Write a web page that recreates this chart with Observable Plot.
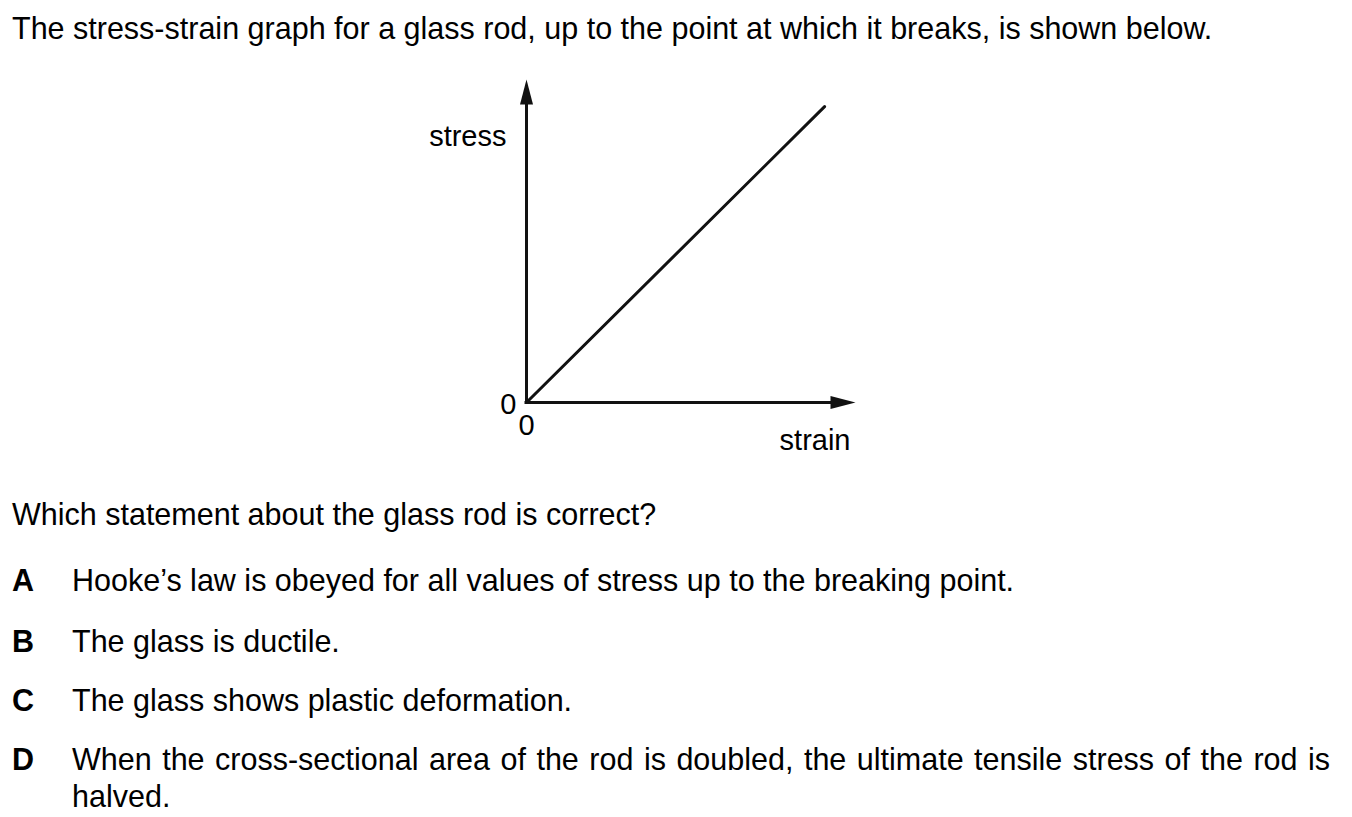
<!DOCTYPE html>
<html>
<head>
<meta charset="utf-8">
<script src="https://cdn.jsdelivr.net/npm/d3@7"></script>
<script src="https://cdn.jsdelivr.net/npm/@observablehq/plot@0.6"></script>
<style>
  html, body { margin: 0; padding: 0; background: #fff; }
  body { width: 1352px; height: 817px; position: relative; overflow: hidden;
         font-family: "Liberation Sans", Arial, Helvetica, sans-serif; color: #000; }
  .t { position: absolute; font-size: 30.5px; line-height: 30.5px; white-space: nowrap; }
  .letter { font-weight: bold; }
  #chart { position: absolute; left: 0; top: 60px; }
</style>
</head>
<body>
<div id="title" class="t" style="left:12px; top:13px;"></div>
<div id="chart"></div>
<div id="question" class="t" style="left:12px; top:499px;"></div>
<div id="options"></div>
<script>
// ---- data ----
const titleText = "The stress-strain graph for a glass rod, up to the point at which it breaks, is shown below.";
const questionText = "Which statement about the glass rod is correct?";
const strain = [0, 0.906];
const stress = [0, 0.916];
const xDomain = [0, 1];
const yDomain = [0, 1];
const xTicks = [0];
const yTicks = [0];
const xLabel = "strain";
const yLabel = "stress";
const optionLetters = ["A", "B", "C", "D"];
const optionTexts = [
  "Hooke\u2019s law is obeyed for all values of stress up to the breaking point.",
  "The glass is ductile.",
  "The glass shows plastic deformation.",
  "When the cross-sectional area of the rod is doubled, the ultimate tensile stress of the rod is"
];
const optionContinuation = "halved.";

// ---- text ----
document.getElementById("title").textContent = titleText;
document.getElementById("question").textContent = questionText;
const optTops = [565, 626, 685, 744];
const opts = document.getElementById("options");
optionLetters.forEach((L, i) => {
  const a = document.createElement("div");
  a.className = "t letter";
  a.style.left = "12px"; a.style.top = optTops[i] + "px";
  a.textContent = L;
  opts.appendChild(a);
  const b = document.createElement("div");
  b.className = "t";
  b.style.left = "72px"; b.style.top = optTops[i] + "px";
  b.textContent = optionTexts[i];
  if (i === optionTexts.length - 1) {
    b.style.width = "1258px";
    b.style.textAlign = "justify";
    b.style.textAlignLast = "justify";
  }
  opts.appendChild(b);
});
const cont = document.createElement("div");
cont.className = "t";
cont.style.left = "72px"; cont.style.top = "781px";
cont.textContent = optionContinuation;
opts.appendChild(cont);

// ---- chart ----
const ink = "#111";
const data = strain.map((s, i) => ({strain: s, stress: stress[i]}));
const arrowRight = { draw(ctx) { ctx.moveTo(0, 0); ctx.lineTo(-25, -6.5); ctx.lineTo(-25, 6.5); ctx.closePath(); } };
const arrowUp = { draw(ctx) { ctx.moveTo(0, 0); ctx.lineTo(-6.5, 25); ctx.lineTo(6.5, 25); ctx.closePath(); } };

const chart = Plot.plot({
  width: 1352,
  height: 400,
  marginLeft: 526,
  marginRight: 497,
  marginTop: 19,
  marginBottom: 58,
  x: { domain: xDomain },
  y: { domain: yDomain },
  style: { fontFamily: "'Liberation Sans', Arial, sans-serif", fontSize: "29px", color: "#000", background: "transparent", overflow: "visible" },
  marks: [
    Plot.ruleY([yDomain[0]], { x1: xDomain[0], x2: xDomain[1] * 0.96, stroke: ink, strokeWidth: 3, strokeLinecap: "square" }),
    Plot.ruleX([xDomain[0]], { y1: yDomain[0], y2: yDomain[1] * 0.96, stroke: ink, strokeWidth: 3, strokeLinecap: "square" }),
    Plot.line(data, { x: "strain", y: "stress", stroke: ink, strokeWidth: 3 }),
    Plot.dot([{ x: xDomain[1], y: yDomain[0] }], { x: "x", y: "y", symbol: arrowRight, fill: ink, r: 5 }),
    Plot.dot([{ x: xDomain[0], y: yDomain[1] }], { x: "x", y: "y", symbol: arrowUp, fill: ink, r: 5 }),
    Plot.axisX({ ticks: xTicks, tickFormat: d => String(d), tickSize: 0, tickPadding: 12, label: null, fill: "#000" }),
    Plot.axisY({ ticks: yTicks, tickFormat: d => String(d), tickSize: 0, tickPadding: 10, label: null, fill: "#000", dy: 2 }),
    Plot.text([yLabel], { text: d => d, frameAnchor: "top-left", textAnchor: "end", dx: -20, dy: 46, fill: "#000" }),
    Plot.text([xLabel], { text: d => d, frameAnchor: "bottom-right", textAnchor: "end", dx: -5, dy: 47, fill: "#000" })
  ]
});
document.getElementById("chart").appendChild(chart);
</script>
</body>
</html>
